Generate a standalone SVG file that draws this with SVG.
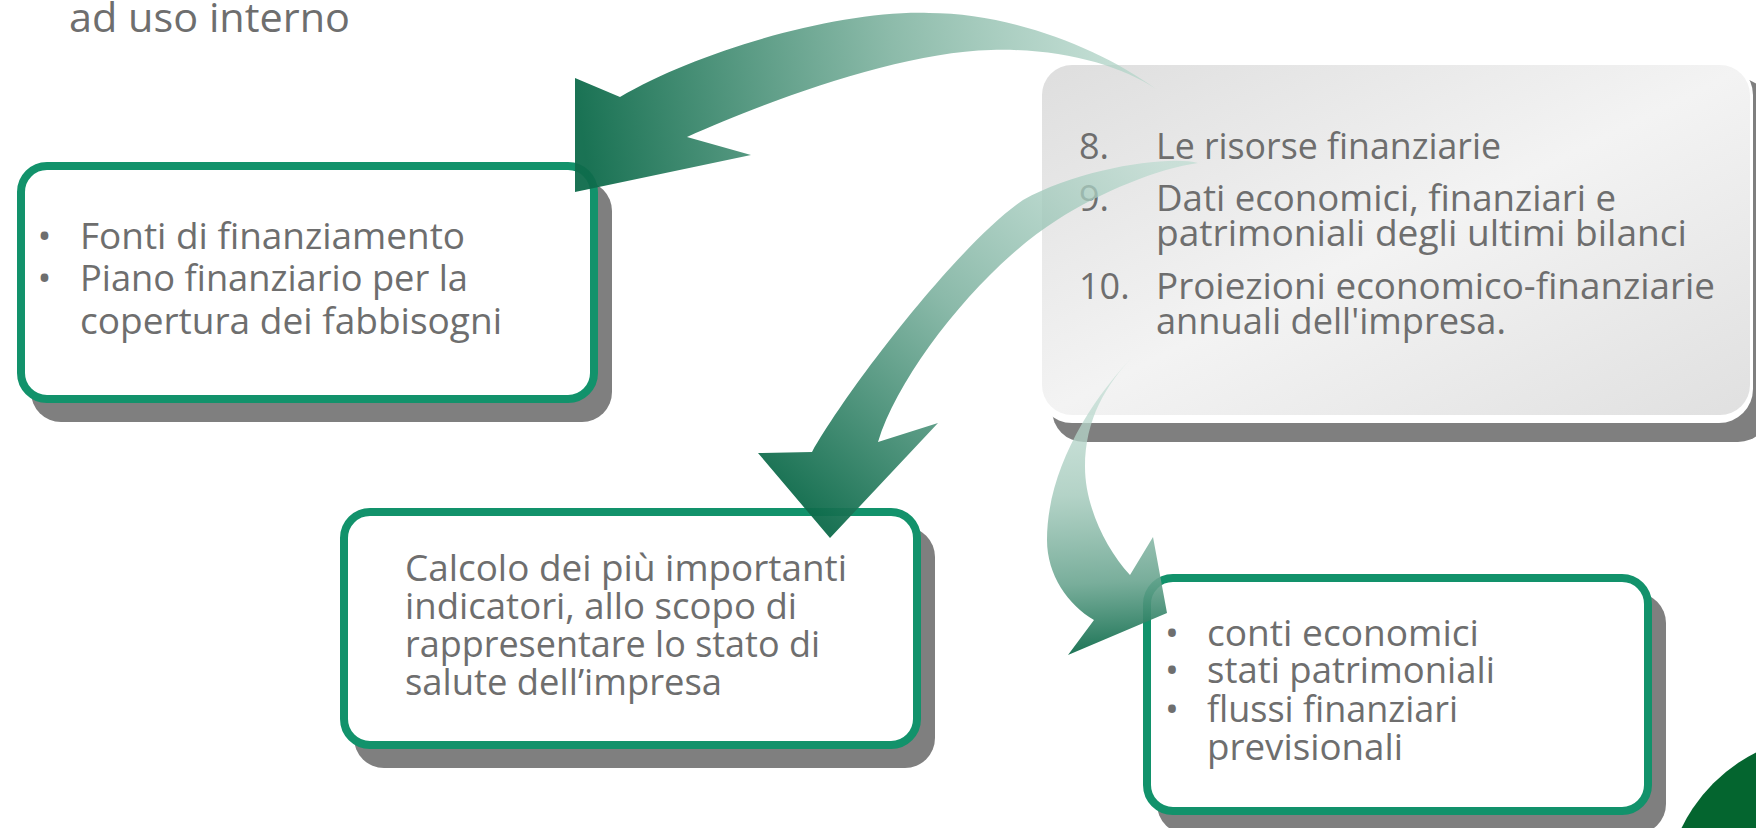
<svg xmlns="http://www.w3.org/2000/svg" width="1756" height="828" viewBox="0 0 1756 828">
<defs>
<style>
.txt{font-family:"Open Sans","Noto Sans","Liberation Sans",sans-serif;fill:#6e6e6e;}
.b37{font-size:37px}
.b36{font-size:36px}
.shadow{fill:#7f7f7f}
.card{fill:#ffffff;stroke:#12926b;stroke-width:8}
</style>
<linearGradient id="gBox" x1="0" y1="0" x2="1" y2="1">
<stop offset="0" stop-color="#dedede"/>
<stop offset="0.5" stop-color="#f3f3f3"/>
<stop offset="1" stop-color="#e0e0e0"/>
</linearGradient>
<linearGradient id="gA" gradientUnits="userSpaceOnUse" x1="1156" y1="60" x2="585" y2="150">
<stop offset="0" stop-color="#b7d8cc" stop-opacity="0.7"/>
<stop offset="0.45" stop-color="#7fb3a0" stop-opacity="0.9"/>
<stop offset="1" stop-color="#0e6b4b" stop-opacity="0.95"/>
</linearGradient>
<linearGradient id="gB" gradientUnits="userSpaceOnUse" x1="1160" y1="160" x2="830" y2="530">
<stop offset="0" stop-color="#bcdbd0" stop-opacity="0.7"/>
<stop offset="0.5" stop-color="#7eb2a0" stop-opacity="0.9"/>
<stop offset="1" stop-color="#0e6b4b" stop-opacity="0.95"/>
</linearGradient>
<linearGradient id="gC" gradientUnits="userSpaceOnUse" x1="1115" y1="360" x2="1130" y2="655">
<stop offset="0" stop-color="#c6e0d7" stop-opacity="0.65"/>
<stop offset="0.45" stop-color="#a6cbbd" stop-opacity="0.85"/>
<stop offset="0.75" stop-color="#6aa590" stop-opacity="0.9"/>
<stop offset="1" stop-color="#0e6b4b" stop-opacity="0.95"/>
</linearGradient>
</defs>
<rect width="1756" height="828" fill="#ffffff"/>

<g id="decor">
<circle cx="1830" cy="900" r="165" fill="#04652f"/>
</g>

<g id="title">
<text class="txt" x="69" y="32" font-size="40" textLength="281" lengthAdjust="spacingAndGlyphs">ad uso interno</text>
</g>

<g id="node-fonti">
<rect class="shadow" x="31" y="181" width="581" height="241" rx="30"/>
<rect class="card" x="21" y="166" width="573" height="233" rx="26"/>
<text class="txt b37" x="44.5" y="249" text-anchor="middle">•</text>
<text class="txt b37" x="44.5" y="291" text-anchor="middle">•</text>
<text class="txt b37" x="80" y="249" textLength="385" lengthAdjust="spacingAndGlyphs">Fonti di finanziamento</text>
<text class="txt b37" x="80" y="291" textLength="388" lengthAdjust="spacingAndGlyphs">Piano finanziario per la</text>
<text class="txt b37" x="80" y="334" textLength="422" lengthAdjust="spacingAndGlyphs">copertura dei fabbisogni</text>
</g>

<g id="node-risorse">
<rect class="shadow" x="1052" y="78" width="718" height="364" rx="32"/>
<rect x="1038" y="61" width="715" height="362" rx="34" fill="#ffffff"/>
<rect x="1042" y="65" width="708" height="350" rx="30" fill="url(#gBox)"/>
<text class="txt b36" x="1079" y="159">8.</text>
<text class="txt b36" x="1156" y="159" textLength="345" lengthAdjust="spacingAndGlyphs">Le risorse finanziarie</text>
<text class="txt b36" x="1079" y="211">9.</text>
<text class="txt b36" x="1156" y="211" textLength="460" lengthAdjust="spacingAndGlyphs">Dati economici, finanziari e</text>
<text class="txt b36" x="1156" y="246" textLength="531" lengthAdjust="spacingAndGlyphs">patrimoniali degli ultimi bilanci</text>
<text class="txt b36" x="1079" y="299">10.</text>
<text class="txt b36" x="1156" y="299" textLength="559" lengthAdjust="spacingAndGlyphs">Proiezioni economico-finanziarie</text>
<text class="txt b36" x="1156" y="334" textLength="350" lengthAdjust="spacingAndGlyphs">annuali dell'impresa.</text>
</g>

<g id="node-calcolo">
<rect class="shadow" x="354" y="527" width="581" height="241" rx="30"/>
<rect class="card" x="344" y="512" width="573" height="233" rx="26"/>
<text class="txt b37" x="405" y="581" textLength="442" lengthAdjust="spacingAndGlyphs">Calcolo dei più importanti</text>
<text class="txt b37" x="405" y="619" textLength="392" lengthAdjust="spacingAndGlyphs">indicatori, allo scopo di</text>
<text class="txt b37" x="405" y="657" textLength="415" lengthAdjust="spacingAndGlyphs">rappresentare lo stato di</text>
<text class="txt b37" x="405" y="695" textLength="317" lengthAdjust="spacingAndGlyphs">salute dell’impresa</text>
</g>

<g id="node-conti">
<rect class="shadow" x="1157" y="593" width="509" height="241" rx="30"/>
<rect class="card" x="1147" y="578" width="501" height="233" rx="26"/>
<text class="txt b37" x="1172" y="646" text-anchor="middle">•</text>
<text class="txt b37" x="1172" y="683" text-anchor="middle">•</text>
<text class="txt b37" x="1172" y="722" text-anchor="middle">•</text>
<text class="txt b37" x="1207" y="646" textLength="272" lengthAdjust="spacingAndGlyphs">conti economici</text>
<text class="txt b37" x="1207" y="683" textLength="288" lengthAdjust="spacingAndGlyphs">stati patrimoniali</text>
<text class="txt b37" x="1207" y="722" textLength="251" lengthAdjust="spacingAndGlyphs">flussi finanziari</text>
<text class="txt b37" x="1207" y="760" textLength="196" lengthAdjust="spacingAndGlyphs">previsionali</text>
</g>

<g id="connectors">
<path id="arrow-to-fonti" fill="url(#gA)" d="M1156,89 C1100,48 1010,13 929,13 C840,10 700,50 620,97 L575,78 L575,192 L751,155 L687,137 C770,100 900,52 991,50 C1060,48 1120,65 1156,89 Z"/>
<path id="arrow-to-calcolo" fill="url(#gB)" d="M1198,163 C1170,155 1080,168 1023,200 C960,243 850,385 812,452 L758,453 L830,538 L938,423 L878,442 C900,370 985,265 1057,220 C1100,192 1160,168 1198,163 Z"/>
<path id="arrow-to-conti" fill="url(#gC)" d="M1137,352 C1090,400 1047,470 1047,540 C1047,575 1068,605 1094,620 L1068,655 L1167,613 L1153,537 L1130,575 C1105,548 1085,505 1085,467 C1085,420 1105,385 1137,352 Z"/>
</g>
</svg>
